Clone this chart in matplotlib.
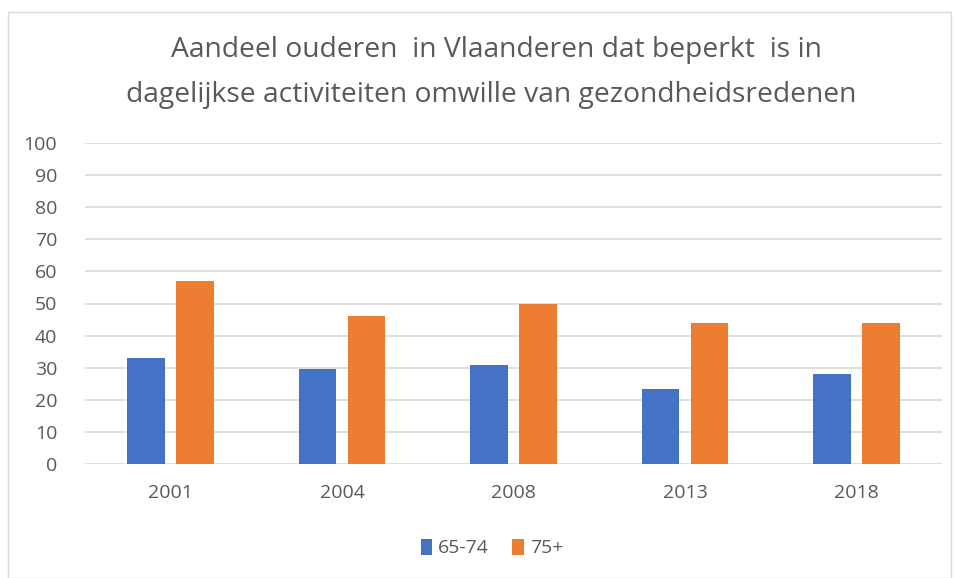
import matplotlib
matplotlib.use("Agg")
import matplotlib.pyplot as plt
import numpy as np
from matplotlib.patches import Rectangle

years = ["2001", "2004", "2008", "2013", "2018"]
age_65_74 = [33, 29.5, 31, 23.5, 28]
age_75_plus = [57, 46, 49.7, 44, 44]
series_labels = ["65-74", "75+"]
title_lines = ["Aandeel ouderen  in Vlaanderen dat beperkt  is in",
               "dagelijkse activiteiten omwille van gezondheidsredenen"]

plt.rcParams['font.family'] = ['Open Sans', 'DejaVu Sans']

W, H = 955, 578
fig = plt.figure(figsize=(W/100, H/100), dpi=100)
ax = fig.add_axes([85/W, 1-464.3/H, (942-85)/W, (464.3-142.7)/H])

x = np.arange(len(years))
bw = 0.22
off = 0.143
ax.bar(x - off, age_65_74, bw, color="#4472C4", label=series_labels[0], zorder=3)
ax.bar(x + off, age_75_plus, bw, color="#ED7D31", label=series_labels[1], zorder=3)

ax.set_xlim(-0.5, len(years) - 0.5)
ax.set_ylim(0, 100)
ax.set_yticks(np.arange(0, 101, 10))
ax.set_xticks(x)
ax.set_xticklabels(years)
ax.grid(axis='y', color="#D9D9D9", linewidth=1.2, zorder=0)
for s in ax.spines.values():
    s.set_visible(False)
ax.tick_params(length=0, colors="#595959", labelsize=14)
ax.tick_params(axis='y', pad=20)
ax.tick_params(axis='x', pad=14)

fig.text(496/W, 1-50/H, title_lines[0], ha='center', va='center', fontsize=20.3,
         color="#595959")
fig.text(491/W, 1-95/H, title_lines[1], ha='center', va='center', fontsize=20.3,
         color="#595959")

fig.legend(loc='center', bbox_to_anchor=(492/W, 1-548/H), ncol=2, frameon=False,
           fontsize=14, handlelength=0.6, handleheight=0.9, handletextpad=0.3,
           columnspacing=1.2, labelcolor="#595959")

fig.patches.append(Rectangle((8/W, 0.0), (951-8)/W, (578-12)/H, transform=fig.transFigure,
                             fill=False, edgecolor="#D9D9D9", linewidth=1))

fig.savefig("out.png", dpi=100)
